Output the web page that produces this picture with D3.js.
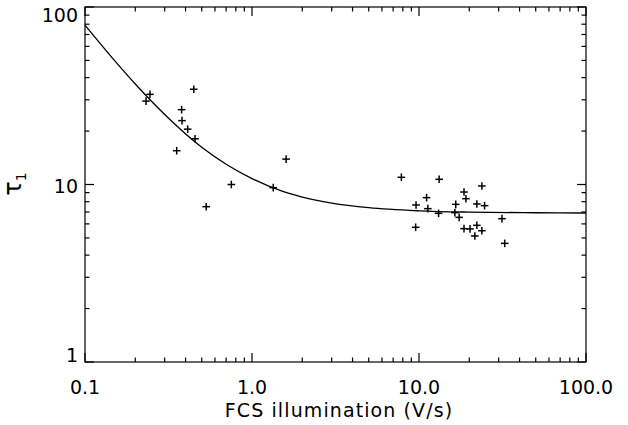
<!DOCTYPE html>
<html>
<head>
<meta charset="utf-8">
<script src="https://cdn.jsdelivr.net/npm/d3@7"></script>
<style>
  html, body { margin: 0; padding: 0; background: #fff; }
  svg { display: block; }
  text { font-family: "DejaVu Sans", sans-serif; fill: #000; }
</style>
</head>
<body>
<svg id="chart" width="628" height="425"></svg>
<script>
// ---- data ----
const pointsX = [0.245, 0.232, 0.448, 0.379, 0.381, 0.412, 0.456, 0.354, 1.60, 0.752, 1.34, 0.532,
  7.84, 13.2, 23.8, 18.6, 11.1, 19.1, 9.6, 22.2, 24.7, 16.6, 11.3, 13.1, 16.4, 17.4, 31.4,
  9.55, 18.6, 20.2, 22.2, 23.8, 21.6, 32.6];
const pointsY = [32.2, 29.5, 34.4, 26.4, 22.9, 20.5, 18.1, 15.5, 13.9, 10.0, 9.6, 7.50,
  10.98, 10.7, 9.81, 9.07, 8.43, 8.32, 7.67, 7.77, 7.60, 7.73, 7.31, 6.88, 6.94, 6.53, 6.42,
  5.74, 5.64, 5.62, 5.89, 5.49, 5.13, 4.66];
const curveX = [0.1, 0.15, 0.2, 0.3, 0.5, 0.7, 1, 1.5, 2, 3, 5, 10, 20, 50, 100];
const curveY = [79.0, 50.0, 36.8, 24.8, 16.2, 13.0, 10.8, 9.2, 8.5, 7.86, 7.40, 7.11, 6.99, 6.93, 6.91];
const xMajorTicks = [0.1, 1, 10, 100];
const xTickLabels = ["0.1", "1.0", "10.0", "100.0"];
const yMajorTicks = [1, 10, 100];
const yTickLabels = ["1", "10", "100"];
const xTitle = "FCS illumination (V/s)";

// ---- layout ----
const L = 85, R = 586, T = 7, B = 362;
const svg = d3.select("#chart");
const x = d3.scaleLog().domain([0.1, 100]).range([L, R]);
const y = d3.scaleLog().domain([1, 100]).range([B, T]);

const xMinor = [];
[0.1, 1, 10].forEach(d => { for (let k = 2; k <= 9; k++) xMinor.push(d * k); });
const yMinor = [];
[1, 10].forEach(d => { for (let k = 2; k <= 9; k++) yMinor.push(d * k); });

const majLen = 9, minLen = 4.5;
const g = svg.append("g").attr("stroke", "#000").attr("stroke-width", 1.2).attr("fill", "none");

// frame
g.append("rect").attr("x", L).attr("y", T).attr("width", R - L).attr("height", B - T);

// x ticks bottom & top
g.selectAll(".xb").data(xMajorTicks.map(v => [v, majLen]).concat(xMinor.map(v => [v, minLen])))
  .enter().append("line")
  .attr("x1", d => x(d[0])).attr("x2", d => x(d[0]))
  .attr("y1", B).attr("y2", d => B - d[1]);
g.selectAll(".xt").data(xMajorTicks.map(v => [v, majLen]).concat(xMinor.map(v => [v, minLen])))
  .enter().append("line")
  .attr("x1", d => x(d[0])).attr("x2", d => x(d[0]))
  .attr("y1", T).attr("y2", d => T + d[1]);
// y ticks left & right
g.selectAll(".yl").data(yMajorTicks.map(v => [v, majLen]).concat(yMinor.map(v => [v, minLen])))
  .enter().append("line")
  .attr("y1", d => y(d[0])).attr("y2", d => y(d[0]))
  .attr("x1", L).attr("x2", d => L + d[1]);
g.selectAll(".yr").data(yMajorTicks.map(v => [v, majLen]).concat(yMinor.map(v => [v, minLen])))
  .enter().append("line")
  .attr("y1", d => y(d[0])).attr("y2", d => y(d[0]))
  .attr("x1", R).attr("x2", d => R - d[1]);

// tick labels
svg.selectAll(".xl").data(xMajorTicks).enter().append("text")
  .attr("x", d => x(d)).attr("y", 394)
  .attr("text-anchor", "middle").attr("font-size", 19)
  .text((d, i) => xTickLabels[i]);
svg.selectAll(".yl").data(yMajorTicks).enter().append("text")
  .attr("x", 78)
  .attr("y", d => Math.min(Math.max(y(d) + 8.5, T + 15), B))
  .attr("text-anchor", "end").attr("font-size", 19)
  .text((d, i) => yTickLabels[i]);

// axis titles
svg.append("text").attr("x", 339).attr("y", 417)
  .attr("text-anchor", "middle").attr("font-size", 19)
  .attr("letter-spacing", 1.1)
  .text(xTitle);
const yt = svg.append("text")
  .attr("transform", "translate(21,184) rotate(-90)")
  .attr("text-anchor", "middle").attr("font-size", 24);
yt.append("tspan").text("τ");
yt.append("tspan").attr("font-size", 14).attr("dy", 5).text("1");

// fit curve
const line = d3.line().x(d => x(d[0])).y(d => y(d[1])).curve(d3.curveMonotoneX);
svg.append("path").datum(curveX.map((v, i) => [v, curveY[i]]))
  .attr("d", line).attr("fill", "none").attr("stroke", "#000").attr("stroke-width", 1.3);

// points (plus markers)
const pts = svg.append("g").attr("stroke", "#000").attr("stroke-width", 1.5);
const s = 3.8;
pointsX.forEach((v, i) => {
  const px = x(v), py = y(pointsY[i]);
  pts.append("line").attr("x1", px - s).attr("x2", px + s).attr("y1", py).attr("y2", py);
  pts.append("line").attr("x1", px).attr("x2", px).attr("y1", py - s).attr("y2", py + s);
});
</script>
</body>
</html>
